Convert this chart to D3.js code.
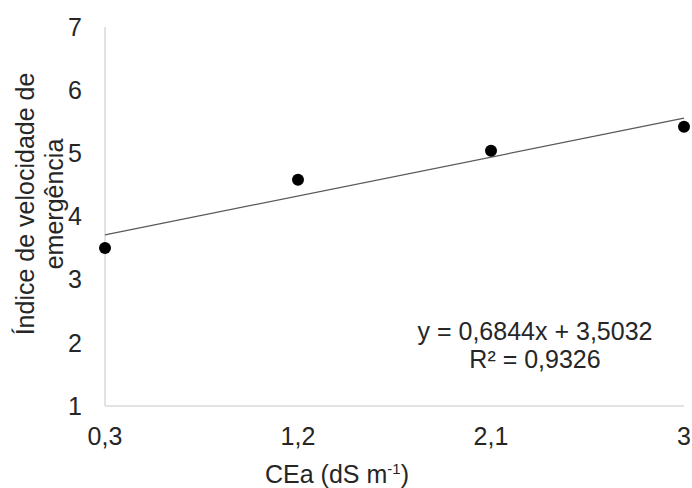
<!DOCTYPE html>
<html lang="en">
<head>
    <meta charset="UTF-8">
    <title>CEa</title>
    <script src="https://d3js.org/d3.v7.min.js"></script>
    <style>
        body { margin: 0; background: #fff; }
        text { font-family: "Liberation Sans", Arial, sans-serif; fill: #262626; }
    </style>
</head>
<body>
    <script>
        // data
        var xValues = [0.3, 1.2, 2.1, 3];
        var xTickLabels = ['0,3', '1,2', '2,1', '3'];
        var yValues = [3.50, 4.58, 5.04, 5.42];
        var yTicks = [1, 2, 3, 4, 5, 6, 7];
        var trend = { slope: 0.6844, intercept: 3.5032 };
        var eqLines = ['y = 0,6844x + 3,5032', 'R² = 0,9326'];

        var width = 692, height = 488;
        var m = { left: 105, right: 684, top: 27, bottom: 406 };
        var fs = 25;

        var svg = d3.select('body').append('svg').attr('width', width).attr('height', height);

        var x = d3.scaleLinear().domain([0.3, 3]).range([m.left, m.right]);
        var y = d3.scaleLinear().domain([1, 7]).range([m.bottom, m.top]);

        // axis lines
        svg.append('line').attr('x1', m.left).attr('x2', m.left).attr('y1', m.top).attr('y2', m.bottom)
            .attr('stroke', '#d9d9d9').attr('stroke-width', 1.5);
        svg.append('line').attr('x1', m.left).attr('x2', m.right).attr('y1', m.bottom).attr('y2', m.bottom)
            .attr('stroke', '#d9d9d9').attr('stroke-width', 1.5);

        // y tick labels
        svg.selectAll('.ytick').data(yTicks).join('text')
            .attr('class', 'ytick')
            .attr('x', 82).attr('y', function (d) { return y(d); })
            .attr('dy', '0.35em')
            .attr('text-anchor', 'end')
            .attr('font-size', fs)
            .text(function (d) { return d; });

        // x tick labels
        svg.selectAll('.xtick').data(xValues).join('text')
            .attr('class', 'xtick')
            .attr('x', function (d) { return x(d); }).attr('y', 445)
            .attr('text-anchor', 'middle')
            .attr('font-size', fs)
            .text(function (d, i) { return xTickLabels[i]; });

        // trendline
        svg.append('line')
            .attr('x1', x(0.3)).attr('y1', y(trend.slope * 0.3 + trend.intercept))
            .attr('x2', x(3)).attr('y2', y(trend.slope * 3 + trend.intercept))
            .attr('stroke', '#595959').attr('stroke-width', 1.2);

        // points
        svg.selectAll('circle').data(xValues).join('circle')
            .attr('cx', function (d) { return x(d); })
            .attr('cy', function (d, i) { return y(yValues[i]); })
            .attr('r', 6)
            .attr('fill', '#000');

        // equation
        svg.selectAll('.eq').data(eqLines).join('text')
            .attr('class', 'eq')
            .attr('x', 535).attr('y', function (d, i) { return 340 + i * 28; })
            .attr('text-anchor', 'middle')
            .attr('font-size', fs)
            .text(function (d) { return d; });

        // x title
        var xt = svg.append('text').attr('x', 337).attr('y', 483)
            .attr('text-anchor', 'middle').attr('font-size', fs);
        xt.append('tspan').text('CEa (dS m');
        xt.append('tspan').attr('dy', -9).attr('font-size', 15).text('-1');
        xt.append('tspan').attr('dy', 9).text(')');

        // y title
        var yt = svg.append('text')
            .attr('transform', 'translate(34,204) rotate(-90)')
            .attr('text-anchor', 'middle').attr('font-size', fs);
        yt.append('tspan').attr('x', 0).attr('y', 0).text('Índice de velocidade de');
        yt.append('tspan').attr('x', 0).attr('y', 29).text('emergência');
    </script>
</body>
</html>
